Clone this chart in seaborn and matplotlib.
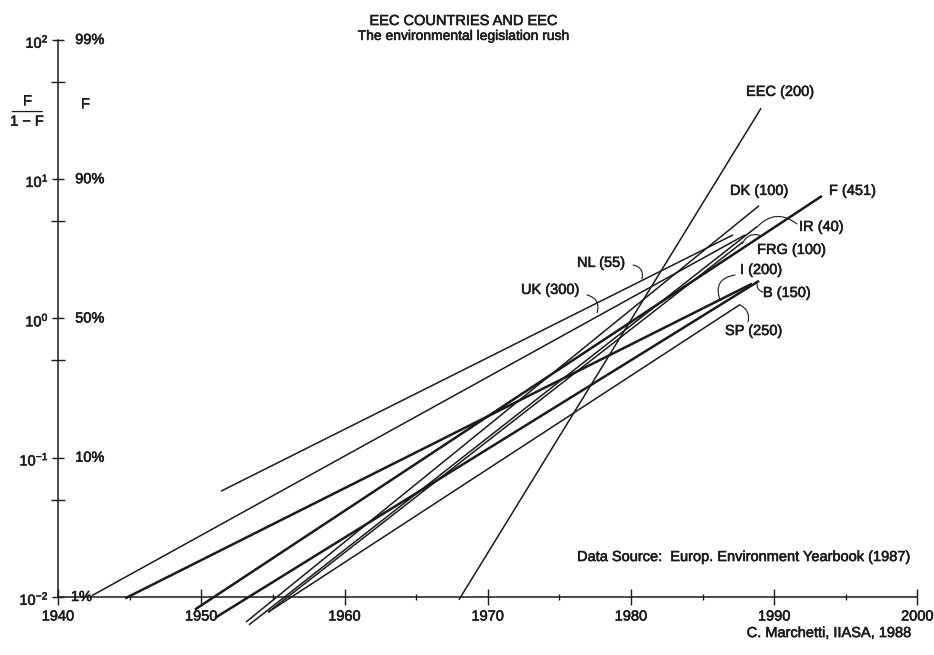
import numpy as np
import pandas as pd
import matplotlib
matplotlib.use("Agg")
import matplotlib.pyplot as plt
import matplotlib.patheffects as pe
from matplotlib.ticker import FixedLocator, NullFormatter
import seaborn as sns

# ---- data: logistic fits, log10(F/(1-F)) at the start and end of each line ----
countries = ["EEC", "F", "DK", "IR", "FRG", "NL", "UK", "I", "B", "SP"]
totals = [200, 451, 100, 40, 100, 55, 300, 200, 150, 250]
start_year = [1967.99, 1949.56, 1953.12, 1953.33, 1954.66, 1951.38, 1942.37, 1944.68, 1950.96, 1954.66]
start_log = [-2.02, -2.09, -2.18, -2.20, -2.11, -1.24, -1.99, -2.01, -2.15, -2.11]
end_year = [1989.08, 1993.33, 1988.94, 1988.80, 1987.82, 1987.12, 1987.96, 1988.45, 1988.94, 1987.61]
end_log = [1.51, 0.88, 0.81, 0.66, 0.55, 0.60, 0.60, 0.25, 0.27, 0.10]
bold_lines = ["F", "I", "B"]

# label anchors (year, log10 ratio) and leader curves
label_year = [1988.03, 1993.82, 1986.91, 1991.73, 1988.80, 1976.23, 1972.32, 1987.61, 1989.21, 1986.56]
label_log = [1.627, 0.916, 0.916, 0.657, 0.492, 0.399, 0.205, 0.348, 0.183, -0.090]
leaders = {
    "NL": ((1980.14, 0.384), (1980.77, 0.284), -0.5),
    "UK": ((1976.93, 0.169), (1977.63, 0.040), -0.5),
    "IR": ((1991.59, 0.679), (1988.80, 0.657), 0.45),
    "FRG": ((1989.15, 0.592), (1987.75, 0.535), 0.45),
    "I": ((1987.26, 0.312), (1986.21, 0.133), 0.6),
    "B": ((1989.21, 0.190), (1988.80, 0.248), -0.4),
    "SP": ((1988.17, -0.025), (1987.61, 0.097), 0.4),
}

decade_years = [1940, 1950, 1960, 1970, 1980, 1990, 2000]
half_decade_years = [1945, 1955, 1965, 1975, 1985, 1995]
ratio_ticks = [1e-2, 1e-1, 1e0, 1e1, 1e2]
ratio_tick_labels = ["$10^{-2}$", "$10^{-1}$", "$10^{0}$", "$10^{1}$", "$10^{2}$"]
ratio_minor = [0.05, 0.5, 5, 50]
share_labels = ["1%", "10%", "50%", "90%", "99%"]

# ---- style ----
sns.set_theme(style="white")
plt.rcParams["font.family"] = ["Liberation Sans", "DejaVu Sans"]
plt.rcParams["mathtext.fontset"] = "custom"
plt.rcParams["mathtext.rm"] = "Liberation Sans"
plt.rcParams["mathtext.it"] = "Liberation Sans"
plt.rcParams["mathtext.default"] = "regular"
ink = "#1a1a1a"
fs = 10.5
heavy = [pe.withStroke(linewidth=0.4, foreground=ink)]

rows = []
for c, y0, l0, y1, l1 in zip(countries, start_year, start_log, end_year, end_log):
    rows.append({"country": c, "year": y0, "ratio": 10 ** l0})
    rows.append({"country": c, "year": y1, "ratio": 10 ** l1})
df = pd.DataFrame(rows)

fig = plt.figure(figsize=(9.34, 6.55), dpi=100)
ax = fig.add_axes([0, 0, 1, 1])
ax.set_yscale("log")
ax.set_xlim(1935.951, 2001.152)
ax.set_ylim(10 ** -2.4165, 10 ** 2.287)

for c in countries:
    sub = df[df["country"] == c]
    sns.lineplot(data=sub, x="year", y="ratio", ax=ax, color=ink,
                 lw=1.8 if c in bold_lines else 1.1, estimator=None,
                 legend=False, solid_capstyle="butt")


def label(x, y, s, **kw):
    kw.setdefault("fontsize", fs)
    kw.setdefault("color", ink)
    return ax.text(x, y, s, path_effects=heavy, **kw)


# labels and leader curves
for c, n, lx, ly in zip(countries, totals, label_year, label_log):
    label(lx, 10 ** ly, f"{c} ({n})", ha="left", va="center")
for c, (p0, p1, rad) in leaders.items():
    ax.annotate("", xy=(p1[0], 10 ** p1[1]), xytext=(p0[0], 10 ** p0[1]),
                arrowprops=dict(arrowstyle="-", color=ink, lw=0.8,
                                shrinkA=0, shrinkB=0,
                                connectionstyle=f"arc3,rad={rad}"))

# axes
for side in ["top", "right"]:
    ax.spines[side].set_visible(False)
ax.spines["left"].set_position(("data", 1940))
ax.spines["left"].set_bounds(1e-2, 1e2)
ax.spines["bottom"].set_position(("data", 1e-2))
ax.spines["bottom"].set_bounds(1940, 2000)
for side in ["left", "bottom"]:
    ax.spines[side].set_color(ink)
    ax.spines[side].set_linewidth(1.1)

ax.set_xticks(decade_years)
ax.set_xticklabels([str(y) for y in decade_years])
ax.xaxis.set_minor_locator(FixedLocator(half_decade_years))
ax.xaxis.set_minor_formatter(NullFormatter())
ax.tick_params(axis="x", which="both", bottom=True, top=False)
ax.tick_params(axis="x", which="major", direction="inout", length=12,
               width=1.0, color=ink, pad=3, labelsize=fs, labelcolor=ink)
ax.tick_params(axis="x", which="minor", direction="inout", length=5,
               width=1.0, color=ink)

ax.set_yticks(ratio_ticks)
ax.set_yticklabels(ratio_tick_labels)
ax.yaxis.set_minor_locator(FixedLocator(ratio_minor))
ax.yaxis.set_minor_formatter(NullFormatter())
ax.tick_params(axis="y", which="both", left=True, right=False)
ax.tick_params(axis="y", which="major", direction="inout", length=9,
               width=1.0, color=ink, pad=2, labelsize=fs, labelcolor=ink)
ax.tick_params(axis="y", which="minor", direction="inout", length=10,
               width=1.0, color=ink)
for t in ax.get_xticklabels() + ax.get_yticklabels():
    t.set_path_effects(heavy)
ax.set_xlabel("")
ax.set_ylabel("")

for r, s in zip(ratio_ticks, share_labels):
    xoff = 1940.9 if s == "1%" else 1941.2
    label(xoff, r, s, ha="left", va="center")

# axis caption: F / (1 - F) as a stacked fraction, and F
label(1937.84, 10 ** 1.560, "F", ha="center", va="center")
label(1937.84, 10 ** 1.413, "1 \u2212 F", ha="center", va="center")
ax.annotate("", xy=(1938.90, 10 ** 1.486), xytext=(1936.80, 10 ** 1.486),
            arrowprops=dict(arrowstyle="-", color=ink, lw=0.9, shrinkA=0, shrinkB=0))
label(1941.88, 10 ** 1.540, "F", ha="center", va="center")

label(1968.34, 10 ** 2.136, "EEC COUNTRIES AND EEC", ha="center", va="center")
label(1968.34, 10 ** 2.029, "The environmental legislation rush", ha="center",
      va="center", fontsize=10)
label(1999.62, 10 ** -1.713, "Data Source:  Europ. Environment Yearbook (1987)",
      ha="right", va="center")
label(1999.62, 10 ** -2.259, "C. Marchetti, IIASA, 1988", ha="right", va="center")

fig.savefig("out.png", dpi=100, facecolor="white")
